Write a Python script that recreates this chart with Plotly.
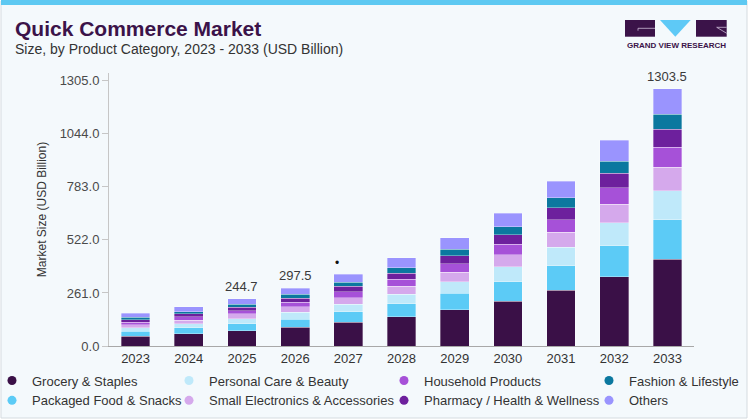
import plotly.graph_objects as go

# values (USD billion), stacked bottom -> top
years = ["2023", "2024", "2025", "2026", "2027", "2028", "2029", "2030", "2031", "2032", "2033"]
grocery = [48, 61, 74, 93, 116, 144, 179, 219, 274, 341, 428]
packaged_food = [25, 28, 36, 39, 52, 64, 80, 98, 121, 152, 192]
personal_care = [16, 20, 25, 33, 38, 46, 56, 73, 90, 113, 144]
small_electronics = [15, 18, 23, 28, 31, 41, 49, 58, 74, 92, 115]
household = [13, 16, 16, 23, 30, 33, 41, 52, 62, 80, 98]
pharmacy = [13, 15, 16, 18, 26, 31, 38, 48, 59, 72, 90]
fashion = [11, 11, 16, 20, 21, 25, 33, 39, 49, 59, 74]
others = [20, 23, 26, 31, 38, 49, 56, 67, 82, 102, 125]

label_years = ["2025", "2026", "2033"]
label_texts = ["244.7", "297.5", "1303.5"]

y_ticks = [0, 261, 522, 783, 1044, 1305]

# (name, values, colour, legend column)
series = [
    ("Grocery & Staples", grocery, "#3a1047", "legend"),
    ("Packaged Food & Snacks", packaged_food, "#5ccbf6", "legend"),
    ("Personal Care & Beauty", personal_care, "#bfe9fa", "legend2"),
    ("Small Electronics & Accessories", small_electronics, "#d5a9ec", "legend2"),
    ("Household Products", household, "#a651d8", "legend3"),
    ("Pharmacy / Health & Wellness", pharmacy, "#6d209d", "legend3"),
    ("Fashion & Lifestyle", fashion, "#0b789f", "legend4"),
    ("Others", others, "#9a94fe", "legend4"),
]

W, H = 749, 420
PLOT_L, PLOT_R, PLOT_T, PLOT_B = 109, 694, 73, 346
FONT = "Liberation Sans, Arial, sans-serif"
DARK = "#3b1349"


def px(x):
    return (x - PLOT_L) / (PLOT_R - PLOT_L)


def py(y):
    return (PLOT_B - y) / (PLOT_B - PLOT_T)


fig = go.Figure()

for name, vals, color, leg in series:
    fig.add_trace(go.Bar(
        x=years, y=vals, name=name, legendgroup=name, showlegend=False,
        marker=dict(color=color, line=dict(color="rgba(255,255,255,0.55)", width=0.6)),
        hovertemplate=name + ": %{y}<extra></extra>",
    ))
    # circle swatch for the legend
    fig.add_trace(go.Scatter(
        x=[years[0]], y=[None], mode="markers", name=name, legendgroup=name,
        legend=leg, marker=dict(color=color, size=9, symbol="circle"), hoverinfo="skip",
    ))

totals = [sum(v) for v in zip(*[s[1] for s in series])]
annotations = []
# category annotations are placed by index: "2025" as a string would be read as position 2025
for yr, txt in zip(label_years, label_texts):
    i = years.index(yr)
    annotations.append(dict(
        x=i, y=totals[i], text=txt, showarrow=False,
        yanchor="bottom", yshift=3, font=dict(size=13, color="#3a3a3a", family=FONT),
    ))
# stray marker above the 2027 bar
i27 = years.index("2027")
annotations.append(dict(
    x=i27, y=totals[i27], text="•", showarrow=False,
    yanchor="bottom", yshift=2, xshift=-11, font=dict(size=12, color="#111"),
))

annotations += [
    dict(xref="paper", yref="paper", x=px(13), y=py(29), xanchor="left", yanchor="middle",
         text="<b>Quick Commerce Market</b>", showarrow=False,
         font=dict(size=21, color=DARK, family=FONT)),
    dict(xref="paper", yref="paper", x=px(13), y=py(49), xanchor="left", yanchor="middle",
         text="Size, by Product Category, 2023 - 2033 (USD Billion)", showarrow=False,
         font=dict(size=14, color="#333333", family=FONT)),
    dict(xref="paper", yref="paper", x=px(676), y=py(45.5), xanchor="center", yanchor="middle",
         text="<b>GRAND VIEW RESEARCH</b>", showarrow=False,
         font=dict(size=8, color=DARK, family=FONT)),
]

shapes = [
    # card background and top stripe
    dict(type="rect", xref="paper", yref="paper", x0=px(1), x1=px(747), y0=py(418), y1=py(1),
         fillcolor="#f4f9fc", line=dict(color="#d5dbe0", width=1), layer="below"),
    dict(type="rect", xref="paper", yref="paper", x0=px(1), x1=px(747), y0=py(5), y1=py(0),
         fillcolor="#5ec9f2", line=dict(width=0), layer="below"),
    # logo
    dict(type="rect", xref="paper", yref="paper", x0=px(625), x1=px(655), y0=py(36.7), y1=py(20),
         fillcolor=DARK, line=dict(width=0)),
    dict(type="path", xref="paper", yref="paper",
         path="M {} {} L {} {} L {} {} Z".format(px(660), py(20), px(690.7), py(20), px(675.3), py(36.7)),
         fillcolor="#5ec9f6", line=dict(width=0)),
    dict(type="rect", xref="paper", yref="paper", x0=px(696), x1=px(726.7), y0=py(36.7), y1=py(20),
         fillcolor=DARK, line=dict(width=0)),
    dict(type="path", xref="paper", yref="paper",
         path="M {} {} L {} {} L {} {}".format(px(655), py(28.3), px(638), py(28.3), px(638), py(30.7)),
         line=dict(color="#cdbcd8", width=0.8)),
    dict(type="path", xref="paper", yref="paper",
         path="M {} {} L {} {} L {} {}".format(px(726.7), py(27.3), px(716.7), py(27.3), px(726.7), py(33.3)),
         line=dict(color="#cdbcd8", width=0.8)),
]

legend_style = dict(
    orientation="v", yanchor="top", xanchor="left", bgcolor="rgba(0,0,0,0)",
    font=dict(size=13, color="#333333", family=FONT), tracegroupgap=0,
)
# pixel x of each legend column's swatch
legend_left = {"legend": 12, "legend2": 189, "legend3": 404, "legend4": 609}

fig.update_layout(
    width=W, height=H,
    margin=dict(l=PLOT_L, r=W - PLOT_R, t=PLOT_T, b=H - PLOT_B, pad=0, autoexpand=False),
    paper_bgcolor="white", plot_bgcolor="rgba(0,0,0,0)",
    barmode="stack", bargap=0.46,
    font=dict(family=FONT, color="#333333"),
    annotations=annotations, shapes=shapes,
    **{k: dict(legend_style, x=px(v - 20), y=py(365.5)) for k, v in legend_left.items()},
)

fig.update_xaxes(
    type="category", categoryorder="array", categoryarray=years, range=[-0.5, len(years) - 0.5],
    showline=True, linecolor="#a8a8a8", linewidth=1, ticks="",
    tickfont=dict(size=13, color="#333333"), showgrid=False,
)
fig.update_yaxes(
    range=[0, 1343], tickvals=y_ticks, ticktext=[f"{v:.1f}" for v in y_ticks],
    showline=True, linecolor="#c6c6c6", linewidth=1, ticks="outside", ticklen=6,
    tickcolor="#c6c6c6", showgrid=False, zeroline=False,
    tickfont=dict(size=13, color="#4a4a4a"),
    title=dict(text="Market Size (USD Billion)", font=dict(size=12, color="#333333"), standoff=10),
)

# drop the browser's default 8px body margin so the 749x420 figure fills the window
fig.write_html("out.html", config={"displayModeBar": False},
               post_script="document.body.style.margin = '0px';")
